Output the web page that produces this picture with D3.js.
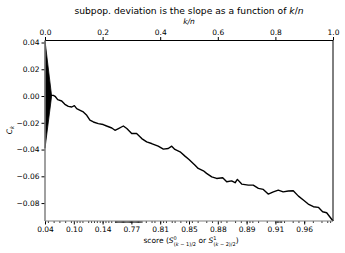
<!DOCTYPE html>
<html><head><meta charset="utf-8">
<script src="https://cdn.jsdelivr.net/npm/d3@7"></script>
<style>body{margin:0;background:#fff}svg{display:block;font-family:"DejaVu Sans",sans-serif}</style>
</head><body><svg id="c" width="345" height="253"></svg>
<script>
// k/n positions and cumulative deviation values C_k
const kn = [0.0, 0.023, 0.029, 0.035, 0.044, 0.058, 0.069, 0.081, 0.093, 0.102, 0.110, 0.122, 0.133, 0.145, 0.156, 0.168, 0.185, 0.202, 0.214, 0.232, 0.243, 0.255, 0.272, 0.284, 0.301, 0.318, 0.336, 0.353, 0.370, 0.393, 0.411, 0.428, 0.440, 0.451, 0.469, 0.486, 0.500, 0.521, 0.532, 0.550, 0.561, 0.579, 0.596, 0.617, 0.631, 0.648, 0.660, 0.668, 0.683, 0.706, 0.723, 0.741, 0.758, 0.775, 0.793, 0.810, 0.827, 0.845, 0.862, 0.880, 0.897, 0.914, 0.932, 0.949, 0.964, 0.978, 0.990, 1.000];
const ck = [0.0, 0.0005, 0.0005, -0.0002, -0.0027, -0.0037, -0.0062, -0.0077, -0.0082, -0.0072, -0.0094, -0.0107, -0.0119, -0.0144, -0.0181, -0.0194, -0.0206, -0.0213, -0.0224, -0.0239, -0.0256, -0.0243, -0.0224, -0.0243, -0.0280, -0.0280, -0.0318, -0.0343, -0.0355, -0.0375, -0.0397, -0.0392, -0.0375, -0.0399, -0.0417, -0.0449, -0.0474, -0.0517, -0.0541, -0.0559, -0.0578, -0.0604, -0.0616, -0.0611, -0.0641, -0.0634, -0.0648, -0.0623, -0.0658, -0.0666, -0.0666, -0.0690, -0.0698, -0.0733, -0.0716, -0.0703, -0.0716, -0.0710, -0.0708, -0.0748, -0.0777, -0.0807, -0.0827, -0.0832, -0.0865, -0.0872, -0.0906, -0.0934];
// triangle (±2 std. dev. at origin)
const triX = [0.0, 0.023, 0.0];
const triY = [0.0413, 0.0, -0.039];
// top axis ticks
const topTicks = [0.0, 0.2, 0.4, 0.6, 0.8, 1.0];
// bottom axis: major tick positions (k/n) and score labels
const botTicks = [0.0, 0.1, 0.2, 0.3, 0.4, 0.5, 0.6, 0.7, 0.8, 0.9];
const botLabels = ["0.04", "0.10", "0.14", "0.77", "0.81", "0.85", "0.88", "0.89", "0.91", "0.96"];
// minor ticks at observation positions (k/n)
const minorTicks = [0.01, 0.03, 0.05, 0.07, 0.09, 0.11, 0.12, 0.13, 0.15, 0.16, 0.17, 0.18, 0.19, 0.20, 0.21, 0.22, 0.23,
  0.243, 0.247, 0.251, 0.255, 0.259, 0.263, 0.267, 0.271, 0.275, 0.279, 0.283, 0.287, 0.291, 0.295, 0.299, 0.303, 0.307, 0.311, 0.315, 0.319, 0.323, 0.327, 0.331, 0.335,
  0.35, 0.37, 0.38, 0.40, 0.41, 0.42, 0.44, 0.45, 0.47, 0.49, 0.51, 0.53, 0.56, 0.58, 0.61, 0.63, 0.66, 0.68, 0.70, 0.71, 0.72, 0.74, 0.77,
  0.80, 0.805, 0.81, 0.815, 0.82, 0.83, 0.86, 0.88, 0.90, 0.93, 0.96, 0.98, 0.99];
const yTicks = [0.04, 0.02, 0.0, -0.02, -0.04, -0.06, -0.08];

const svg = d3.select("#c");
const L = 45, R = 333, T = 40.5, B = 221;
const x = d3.scaleLinear().domain([0, 1]).range([L, R]);
const y = d3.scaleLinear().domain([-0.0934, 0.0415]).range([B, T]);
const fmt2 = d3.format(".2f");
const fmt1 = d3.format(".1f");
const minus = s => s.replace("-", "\u2212");

// triangle
svg.append("path")
  .attr("d", d3.line().x((d,i)=>x(triX[i])).y((d,i)=>y(triY[i]))(triX) + "Z")
  .attr("fill", "#000").attr("stroke", "#000").attr("stroke-width", 0.8);

// curve
svg.append("path")
  .attr("d", d3.line().x((d,i)=>x(kn[i])).y((d,i)=>y(ck[i]))(kn))
  .attr("fill", "none").attr("stroke", "#000").attr("stroke-width", 1.4).attr("stroke-linejoin", "round");

// left axis
const yAxis = d3.axisLeft(y).tickValues(yTicks).tickSize(3.5).tickPadding(2).tickFormat(d => minus(fmt2(d)));
const gy = svg.append("g").attr("transform", `translate(${L},0)`).call(yAxis);
gy.select(".domain").remove();
gy.selectAll("text").attr("font-size", 7.5).attr("fill", "#000").attr("font-family", "DejaVu Sans");

// top axis
const xTop = d3.axisTop(x).tickValues(topTicks).tickSize(3.5).tickPadding(2).tickFormat(fmt1);
const gt = svg.append("g").attr("transform", `translate(0,${T})`).call(xTop);
gt.select(".domain").remove();
gt.selectAll("text").attr("font-size", 7.5).attr("fill", "#000").attr("font-family", "DejaVu Sans");

// bottom axis major
const xBot = d3.axisBottom(x).tickValues(botTicks).tickSize(3.5).tickPadding(2).tickFormat((d,i) => botLabels[i]);
const gb = svg.append("g").attr("transform", `translate(0,${B})`).call(xBot);
gb.select(".domain").remove();
gb.selectAll("text").attr("font-size", 7.5).attr("fill", "#000").attr("font-family", "DejaVu Sans");
// bottom minor ticks
const xMinor = d3.axisBottom(x).tickValues(minorTicks).tickSize(2).tickFormat("");
const gm = svg.append("g").attr("transform", `translate(0,${B})`).call(xMinor);
gm.select(".domain").remove();
gm.selectAll("line").attr("stroke-width", 0.8);

// spines: top/right crisp black, left/bottom softer grey as in the reference
svg.append("line").attr("x1", L).attr("x2", R).attr("y1", T).attr("y2", T).attr("stroke", "#000").attr("stroke-width", 1);
svg.append("line").attr("x1", R).attr("x2", R).attr("y1", T).attr("y2", B).attr("stroke", "#000").attr("stroke-width", 1);
svg.append("line").attr("x1", L).attr("x2", L).attr("y1", T).attr("y2", B).attr("stroke", "#808080").attr("stroke-width", 1.5);
svg.append("line").attr("x1", L).attr("x2", R).attr("y1", B).attr("y2", B).attr("stroke", "#808080").attr("stroke-width", 1.2);

// title
svg.append("text").attr("x", 189).attr("y", 13.5).attr("text-anchor", "middle").attr("font-size", 9.2)
  .html('subpop. deviation is the slope as a function of <tspan font-style="italic">k</tspan>/<tspan font-style="italic">n</tspan>');
svg.append("text").attr("x", 189).attr("y", 23.5).attr("text-anchor", "middle").attr("font-size", 7.5).attr("font-style", "italic").text("k/n");

// y label
svg.append("text").attr("transform", "translate(12,130) rotate(-90)").attr("text-anchor", "middle").attr("font-size", 7.5)
  .html('<tspan font-style="italic">C</tspan><tspan font-style="italic" font-size="5.5" dy="2">k</tspan>');

// x label
svg.append("text").attr("x", 191).attr("y", 243).attr("text-anchor", "middle").attr("font-size", 7.5)
  .html('score (<tspan font-style="italic">S</tspan><tspan font-size="5" dy="-3">0</tspan><tspan font-size="5" dx="-3" dy="5.5">(<tspan font-style="italic">k</tspan> \u2212 1)/2</tspan><tspan dy="-2.5"> or </tspan><tspan font-style="italic">S</tspan><tspan font-size="5" dy="-3">1</tspan><tspan font-size="5" dx="-3" dy="5.5">(<tspan font-style="italic">k</tspan> \u2212 2)/2</tspan><tspan dy="-2.5">)</tspan>');
</script></body></html>
